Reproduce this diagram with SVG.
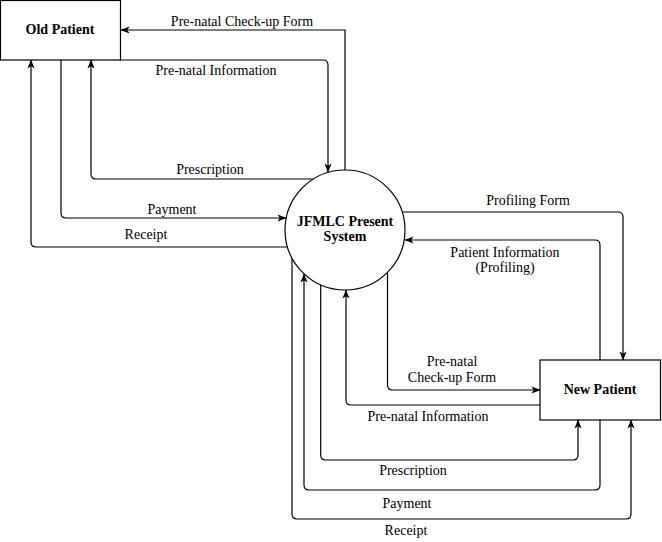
<svg xmlns="http://www.w3.org/2000/svg" width="662" height="542" viewBox="0 0 662 542">
<style>
.node{fill:#fff;stroke:#000;stroke-width:1.2}
.nl{font-family:"Liberation Serif","Times New Roman",serif;font-size:14px;font-weight:bold;fill:#000;text-anchor:middle}
.el{font-family:"Liberation Serif","Times New Roman",serif;font-size:14px;fill:#000;text-anchor:middle}
.edge{fill:none;stroke:#000;stroke-width:1.2;marker-end:url(#arr)}
</style>
<defs>
<marker id="arr" viewBox="0 0 10 10" refX="9.5" refY="5" markerWidth="9" markerHeight="9" markerUnits="userSpaceOnUse" orient="auto">
<path d="M0,1 L10,5 L0,9 L2.5,5 Z" fill="#000"/>
</marker>
</defs>
<rect width="662" height="542" fill="#fff"/>
<g id="connectors">
<path class="edge" d="M345,170 L345,30 L121,30"/>
<path class="edge" d="M120,60 L323,60 Q328,60 328,65 L328,172"/>
<path class="edge" d="M313,179 L96,179 Q91,179 91,174 L91,60"/>
<path class="edge" d="M61,60 L61,213 Q61,218 66,218 L286,218"/>
<path class="edge" d="M287,247 L36,247 Q31,247 31,242 L31,60"/>
<path class="edge" d="M403,212 L618,212 Q623,212 623,217 L623,360"/>
<path class="edge" d="M600,360 L600,245 Q600,240 595,240 L405,240"/>
<path class="edge" d="M387.5,273 L387.5,385 Q387.5,390 392.5,390 L540,390"/>
<path class="edge" d="M540,405 L351,405 Q346,405 346,400 L346,290"/>
<path class="edge" d="M320.7,285 L320.7,455 Q320.7,460 325.7,460 L573,460 Q578,460 578,455 L578,420"/>
<path class="edge" d="M600,420 L600,485 Q600,490 595,490 L309,490 Q304,490 304,485 L304,274"/>
<path class="edge" d="M292,258 L292,514 Q292,519 297,519 L626,519 Q631,519 631,514 L631,420"/>
<text class="el" x="242" y="26">Pre-natal Check-up Form</text>
<text class="el" x="216" y="75">Pre-natal Information</text>
<text class="el" x="210" y="174">Prescription</text>
<text class="el" x="172" y="214">Payment</text>
<text class="el" x="146" y="239">Receipt</text>
<text class="el" x="528" y="205">Profiling Form</text>
<text class="el" x="505" y="256.5">Patient Information</text>
<text class="el" x="505" y="271.5">(Profiling)</text>
<text class="el" x="452" y="365.5">Pre-natal</text>
<text class="el" x="452" y="381.5">Check-up Form</text>
<text class="el" x="428" y="420.5">Pre-natal Information</text>
<text class="el" x="413" y="475">Prescription</text>
<text class="el" x="407" y="508">Payment</text>
<text class="el" x="406" y="535">Receipt</text>
</g>
<g id="old-patient">
<rect class="node" x="0.5" y="0.5" width="120" height="59.5"/>
<text class="nl" x="60" y="33.5">Old Patient</text>
</g>
<g id="jfmlc-present-system">
<circle class="node" cx="345" cy="230" r="60"/>
<text class="nl" x="345" y="226">JFMLC Present</text>
<text class="nl" x="345" y="241">System</text>
</g>
<g id="new-patient">
<rect class="node" x="540" y="360" width="120.5" height="60"/>
<text class="nl" x="600" y="393.5">New Patient</text>
</g>
</svg>
